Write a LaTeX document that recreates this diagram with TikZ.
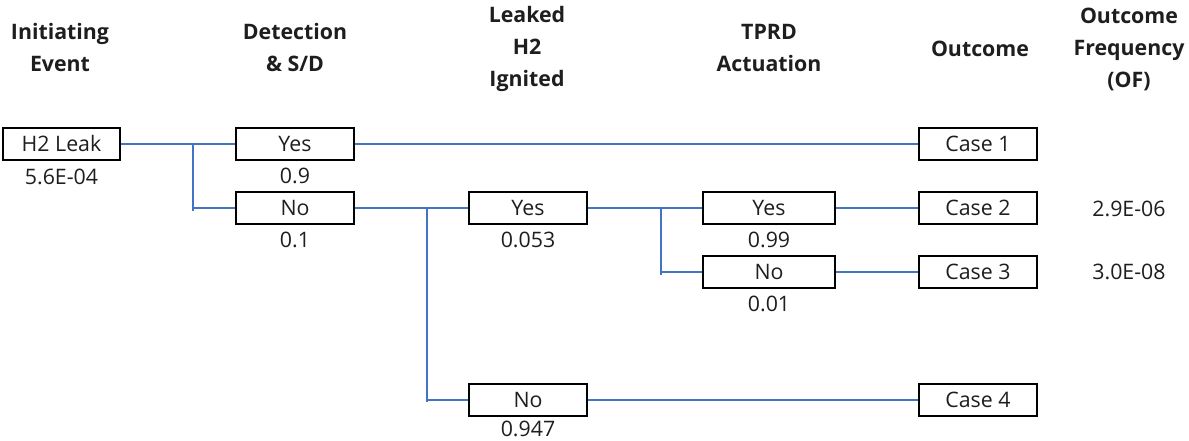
\documentclass[tikz,border=0pt]{standalone}
\usepackage{fontspec}
\setmainfont{Open Sans}
\definecolor{lineblue}{RGB}{68,114,196}
\definecolor{txt}{RGB}{30,30,30}
\begin{document}
\begin{tikzpicture}[x=0.75pt,y=-0.75pt,
  evbox/.style={draw=black,line width=1.5pt,minimum width=88pt,minimum height=23.5pt,inner sep=0pt,font=\fontsize{16}{18}\selectfont,text=txt},
  wbox/.style={evbox,minimum width=99pt},
  prob/.style={font=\fontsize{16}{18}\selectfont,text=txt,inner sep=0pt},
  head/.style={font=\bfseries\fontsize{16}{24}\selectfont,align=center,text=txt,inner sep=0pt},
  conn/.style={draw=lineblue,line width=1.1pt}]
\useasboundingbox (0,0) rectangle (1189,441);
% headers
\node[head] (h1) at (60,48) {Initiating\\Event};
\node[head] (h2) at (295,48) {Detection\\\& S/D};
\node[head] (h3) at (527,49) {Leaked\\H2\\Ignited};
\node[head] (h4) at (769,48) {TPRD\\Actuation};
\node[head] (h5) at (980,49) {Outcome};
\node[head] (h6) at (1129,49) {Outcome\\Frequency\\(OF)};
% boxes
\node[evbox] (leak) at (61.5,144) {H2 Leak};
\node[prob] (pleak) at (61.5,177) {5.6E-04};
\node[evbox] (yes1) at (295,144) {Yes};
\node[prob] (pyes1) at (295,176) {0.9};
\node[evbox] (no1) at (295,208) {No};
\node[prob] (pno1) at (295,240) {0.1};
\node[evbox] (yes2) at (528,208) {Yes};
\node[prob] (pyes2) at (528,240) {0.053};
\node[evbox] (no2) at (528,400) {No};
\node[prob] (pno2) at (528,429) {0.947};
\node[wbox] (yes3) at (769,208) {Yes};
\node[prob] (pyes3) at (769,240) {0.99};
\node[wbox] (no3) at (769,272) {No};
\node[prob] (pno3) at (769,304) {0.01};
\node[evbox] (c1) at (978,144) {Case 1};
\node[evbox] (c2) at (978,208) {Case 2};
\node[evbox] (c3) at (978,272) {Case 3};
\node[evbox] (c4) at (978,400) {Case 4};
\node[prob] (f2) at (1129,209) {2.9E-06};
\node[prob] (f3) at (1129,272) {3.0E-08};
% branch points
\coordinate (b1) at (193,144);
\coordinate (b1d) at (193,211);
\coordinate (b2) at (427,208);
\coordinate (b2d) at (427,402);
\coordinate (b3) at (661,208);
\coordinate (b3d) at (661,275);
% connectors
\draw[conn] (leak.east) -- (b1) -- (yes1.west);
\draw[conn] (b1) -- (b1d);
\draw[conn] (b1d |- no1.west) -- (no1.west);
\draw[conn] (yes1.east) -- (c1.west);
\draw[conn] (no1.east) -- (b2) -- (yes2.west);
\draw[conn] (b2) -- (b2d);
\draw[conn] (b2d |- no2.west) -- (no2.west);
\draw[conn] (no2.east) -- (c4.west);
\draw[conn] (yes2.east) -- (b3) -- (yes3.west);
\draw[conn] (b3) -- (b3d);
\draw[conn] (b3d |- no3.west) -- (no3.west);
\draw[conn] (yes3.east) -- (c2.west);
\draw[conn] (no3.east) -- (c3.west);
\end{tikzpicture}
\end{document}
